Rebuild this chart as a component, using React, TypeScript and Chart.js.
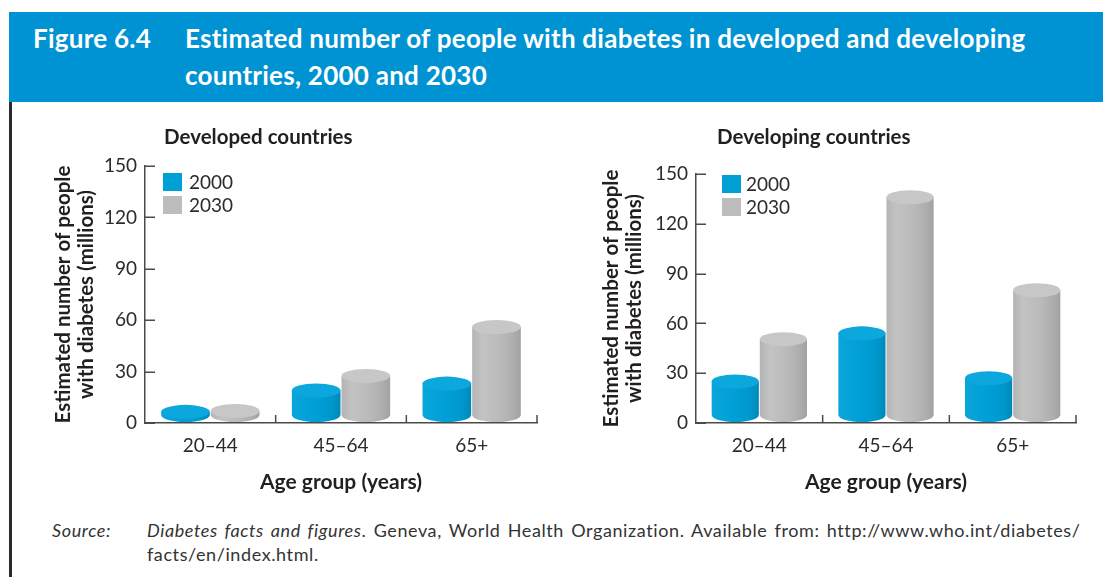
import React, { useEffect, useRef } from "react";
import { Chart, registerables } from "chart.js";

Chart.register(...registerables);

// ---- data ----
const categories = ["20–44", "45–64", "65+"];
const seriesLabels = ["2000", "2030"];
const developed2000 = [6.5, 19, 23];
const developed2030 = [7, 27.5, 56];
const developing2000 = [25, 54, 27];
const developing2030 = [50.5, 136, 80];
const yTicks = [0, 30, 60, 90, 120, 150];

const yTitle = ["Estimated number of people", "with diabetes (millions)"];
const xTitle = "Age group (years)";

// ---- styles ----
const FONT = "Lato, 'Open Sans', sans-serif";
const AXIS = "#4a4a4a";
const TICK = "#2b2b2b";
const TITLE = "#231f20";
const swatchColors = ["#00a0d6", "#bdbdbd"];
const cylStyles = [
  {
    body: [
      [0, "#0aa5db"],
      [0.45, "#00a0d6"],
      [0.82, "#0097cb"],
      [1, "#0088b9"],
    ],
    top: "#0ba7dd",
  },
  {
    body: [
      [0, "#b4b4b4"],
      [0.22, "#c3c3c3"],
      [0.6, "#b9b9b9"],
      [0.85, "#adadad"],
      [1, "#a1a1a1"],
    ],
    top: "#c7c7c7",
  },
];

const cylinderPlugin = {
  id: "cylinders",
  afterDatasetsDraw(chart: any) {
    const ctx = chart.ctx;
    chart.data.datasets.forEach((_ds: any, di: number) => {
      const meta = chart.getDatasetMeta(di);
      const st = cylStyles[di];
      meta.data.forEach((bar: any) => {
        const { x, y, base, width } = bar.getProps(["x", "y", "base", "width"], true);
        const rx = width / 2;
        const ry = 7;
        const left = x - rx;
        const right = x + rx;
        const yBot = base - ry - 1;
        const yTop = Math.min(y, yBot);
        const g = ctx.createLinearGradient(left, 0, right, 0);
        st.body.forEach(([o, c]: any) => g.addColorStop(o, c));
        ctx.save();
        ctx.beginPath();
        ctx.moveTo(left, yTop);
        ctx.lineTo(left, yBot);
        ctx.ellipse(x, yBot, rx, ry, 0, Math.PI, 0, true);
        ctx.lineTo(right, yTop);
        ctx.closePath();
        ctx.fillStyle = g;
        ctx.fill();
        ctx.beginPath();
        ctx.ellipse(x, yTop, rx, ry, 0, 0, Math.PI * 2);
        ctx.fillStyle = st.top;
        ctx.fill();
        ctx.restore();
      });
    });
  },
};

const decorPlugin = {
  id: "decor",
  afterDraw(chart: any, _args: any, opts: any) {
    const { ctx, chartArea } = chart;
    const xs = chart.scales.x;
    const ys = chart.scales.y;
    ctx.save();
    ctx.strokeStyle = AXIS;
    ctx.lineWidth = 1.5;
    // inward y ticks
    ys.ticks.forEach((t: any) => {
      const py = Math.round(ys.getPixelForValue(t.value)) + 0.25;
      ctx.beginPath();
      ctx.moveTo(chartArea.left, py);
      ctx.lineTo(chartArea.left + 10, py);
      ctx.stroke();
    });
    // category boundary ticks
    const step = xs.getPixelForValue(1) - xs.getPixelForValue(0);
    for (let i = 0; i < categories.length; i++) {
      const px = xs.getPixelForValue(i) + step / 2;
      ctx.beginPath();
      ctx.moveTo(px, chartArea.bottom);
      ctx.lineTo(px, chartArea.bottom - 8);
      ctx.stroke();
    }
    // chart title
    ctx.fillStyle = TITLE;
    ctx.font = `bold 20.5px ${FONT}`;
    ctx.textBaseline = "middle";
    ctx.textAlign = "left";
    ctx.fillText(opts.title, chartArea.left + opts.titleDx, opts.titleY);
    // legend inside chart area
    chart.data.datasets.forEach((ds: any, i: number) => {
      const lx = chartArea.left + opts.legendDx;
      const ly = chartArea.top + opts.legendDy + i * 23;
      ctx.fillStyle = swatchColors[i];
      ctx.fillRect(lx, ly, 19, 18);
      ctx.fillStyle = TICK;
      ctx.font = `19px ${FONT}`;
      ctx.fillText(ds.label, lx + opts.legendTextDx, ly + 9.5);
    });
    ctx.restore();
  },
};

type PanelProps = {
  series: number[][];
  left: number;
  top: number;
  width: number;
  height: number;
  padding: { left: number; right: number; top: number; bottom: number };
  yWidth: number;
  xHeight: number;
  yTitlePad: number;
  title: string;
  titleDx: number;
  legendDx: number;
  legendDy: number;
  legendTextDx: number;
};

function Panel(p: PanelProps) {
  const ref = useRef<HTMLCanvasElement | null>(null);
  useEffect(() => {
    if (!ref.current) return;
    const chart = new Chart(ref.current, {
      type: "bar",
      data: {
        labels: categories,
        datasets: p.series.map((vals, i) => ({
          label: seriesLabels[i],
          data: vals,
          backgroundColor: "rgba(0,0,0,0)",
          borderWidth: 0,
          categoryPercentage: 0.76,
          barPercentage: 0.98,
        })),
      },
      options: {
        animation: false,
        responsive: false,
        maintainAspectRatio: false,
        layout: { padding: p.padding },
        plugins: {
          legend: { display: false },
          tooltip: { enabled: false },
          title: { display: false },
          decor: {
            title: p.title,
            titleDx: p.titleDx,
            titleY: 17.5,
            legendDx: p.legendDx,
            legendDy: p.legendDy,
            legendTextDx: p.legendTextDx,
          },
        } as any,
        scales: {
          x: {
            type: "category",
            offset: true,
            grid: { display: false, drawTicks: false },
            border: { display: true, color: AXIS, width: 1.5 },
            ticks: { color: TICK, font: { family: FONT, size: 19 }, padding: 11 },
            title: {
              display: true,
              text: xTitle,
              color: TITLE,
              font: { family: FONT, size: 21, weight: "bold", lineHeight: 1.2 },
              padding: { top: 0, bottom: 5 },
            },
            afterFit: (s: any) => {
              s.height = p.xHeight;
            },
          },
          y: {
            min: 0,
            max: 150,
            afterBuildTicks: (s: any) => {
              s.ticks = yTicks.map((v) => ({ value: v }));
            },
            grid: { display: false, drawTicks: false },
            border: { display: true, color: AXIS, width: 1.5 },
            ticks: { color: TICK, font: { family: FONT, size: 19 }, padding: 8 },
            title: {
              display: true,
              text: yTitle,
              color: TITLE,
              font: { family: FONT, size: 20.5, weight: "bold", lineHeight: 1.1 },
              padding: { top: p.yTitlePad, bottom: 0 },
            },
            afterFit: (s: any) => {
              s.width = p.yWidth;
            },
          },
        },
      } as any,
      plugins: [cylinderPlugin, decorPlugin],
    });
    return () => chart.destroy();
  }, []);
  return (
    <canvas
      ref={ref}
      width={p.width}
      height={p.height}
      style={{ position: "absolute", left: p.left, top: p.top, width: p.width, height: p.height }}
    />
  );
}

export default function App() {
  const headStyle: React.CSSProperties = {
    position: "absolute",
    top: 20,
    color: "#ffffff",
    fontWeight: 700,
    fontSize: 26,
    letterSpacing: 0.25,
    lineHeight: "37px",
    whiteSpace: "nowrap",
  };
  const srcStyle: React.CSSProperties = {
    position: "absolute",
    top: 518,
    fontSize: 18,
    lineHeight: "24px",
    letterSpacing: 0.6,
    wordSpacing: 2,
    color: "#333333",
    whiteSpace: "nowrap",
  };
  return (
    <div
      style={{
        position: "absolute",
        left: 0,
        top: 0,
        width: 1103,
        height: 577,
        overflow: "hidden",
        background: "#ffffff",
        fontFamily: FONT,
      }}
    >
      <div
        style={{
          position: "absolute",
          left: 9,
          top: 12,
          width: 1094,
          height: 90,
          background: "#0093d3",
        }}
      />
      <div style={{ ...headStyle, left: 33 }}>Figure 6.4</div>
      <div style={{ ...headStyle, left: 185 }}>
        Estimated number of people with diabetes in developed and developing
        <br />
        countries, 2000 and 2030
      </div>
      <div
        style={{ position: "absolute", left: 9, top: 102, width: 3, height: 475, background: "#2a2a2a" }}
      />

      <Panel
        series={[developed2000, developed2030]}
        left={40}
        top={120}
        width={520}
        height={380}
        padding={{ left: 0, right: 23, top: 46, bottom: 0 }}
        yWidth={105}
        xHeight={77}
        yTitlePad={12.5}
        title="Developed countries"
        titleDx={19}
        legendDx={18}
        legendDy={7}
        legendTextDx={26}
      />
      <Panel
        series={[developing2000, developing2030]}
        left={590}
        top={120}
        width={500}
        height={380}
        padding={{ left: 0, right: 14, top: 54, bottom: 0 }}
        yWidth={106}
        xHeight={77}
        yTitlePad={10.5}
        title="Developing countries"
        titleDx={21}
        legendDx={26}
        legendDy={1}
        legendTextDx={24}
      />

      <div style={{ ...srcStyle, left: 52, fontStyle: "italic" }}>Source:</div>
      <div style={{ ...srcStyle, left: 147 }}>
        <i>Diabetes facts and figures</i>. Geneva, World Health Organization. Available from: http://www.who.int/diabetes/
        <br />
        facts/en/index.html.
      </div>
    </div>
  );
}
